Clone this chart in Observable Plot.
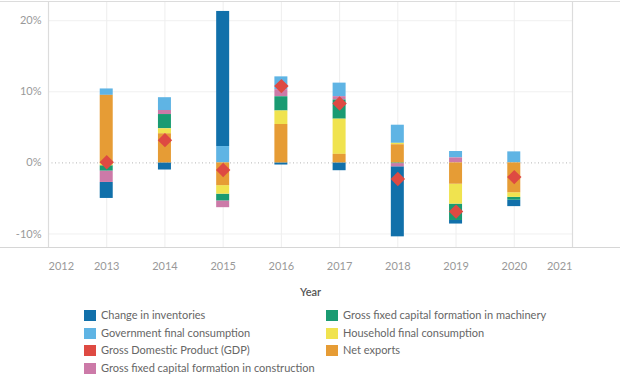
<!DOCTYPE html>
<html><head><meta charset="utf-8">
<script src="https://cdn.jsdelivr.net/npm/d3@7"></script>
<script src="https://cdn.jsdelivr.net/npm/@observablehq/plot@0.6"></script>
<style>
body{margin:0;background:#fff;font-family:Lato,sans-serif;}
#wrap{position:relative;width:620px;height:384px;overflow:hidden;background:#fff}
#wrap svg{position:absolute;left:0;top:0}
.item{position:absolute;display:flex;align-items:center;font-size:11px;color:#666;white-space:nowrap;height:14px;line-height:14px}
.sw{width:12px;height:11px;margin-right:5px;flex:none}
</style></head><body><div id="wrap"></div>
<script>
const years = [2013, 2014, 2015, 2016, 2017, 2018, 2019, 2020];
const inventories = [-2.25, -1.0, 19.0, -0.3, -1.1, -9.85, -0.5, -0.9];
const government = [0.9, 1.8, 2.3, 1.8, 1.9, 2.55, 0.9, 1.55];
const construction = [-1.6, 0.57, -0.95, 1.0, 0.47, -0.45, 0.7, 0];
const machinery = [-0.75, 2.0, -0.95, 2.0, 2.7, -0.1, -2.3, -0.4];
const household = [-0.4, 0.7, -1.2, 1.9, 4.95, 0.2, -2.8, -0.65];
const netExports = [9.5, 4.1, -3.2, 5.4, 1.2, 2.55, -3.0, -4.2];
const gdp = [0.1, 3.2, -1.0, 10.8, 8.35, -2.26, -6.85, -2.0];

const legendNames = ["Change in inventories", "Government final consumption", "Gross Domestic Product (GDP)",
  "Gross fixed capital formation in construction", "Gross fixed capital formation in machinery",
  "Household final consumption", "Net exports"];
const legendColors = ["#1170aa", "#5fb4e4", "#de4a42", "#cc7aa8", "#1a9b72", "#f0e34f", "#e69c35"];
const xTicks = [2012, 2013, 2014, 2015, 2016, 2017, 2018, 2019, 2020, 2021];
const yTicks = [-10, 0, 10, 20];

const seriesValues = [
  ["Change in inventories", inventories],
  ["Government final consumption", government],
  ["Gross fixed capital formation in construction", construction],
  ["Gross fixed capital formation in machinery", machinery],
  ["Household final consumption", household],
  ["Net exports", netExports]
];
const data = seriesValues.flatMap(([s, vals]) => vals.map((v, i) => ({year: years[i], series: s, value: v})));
const gdpData = gdp.map((v, i) => ({year: years[i], value: v}));
const stackOrder = ["Net exports", "Household final consumption", "Gross fixed capital formation in machinery",
  "Gross fixed capital formation in construction", "Government final consumption", "Change in inventories"];

const yDomain = [-11.9, 22.7];
const axisStyle = {tickSize: 0, color: "#999", fontSize: 11, label: null};
const chart = Plot.plot({
  width: 620, height: 305,
  marginTop: 1, marginLeft: 48, marginRight: 48, marginBottom: 58,
  x: {domain: [2012, 2021], axis: null, label: null},
  y: {domain: yDomain, axis: null, label: null},
  color: {domain: legendNames, range: legendColors},
  style: {fontFamily: "Lato, sans-serif", fontSize: "11px", background: "white"},
  marks: [
    Plot.ruleY([-10, 10, 20], {stroke: "#f0f0f0"}),
    Plot.ruleX(xTicks.slice(1, -1), {stroke: "#eeeeee"}),
    Plot.ruleY([0], {stroke: "#b5b5b5", strokeDasharray: "1,2.5"}),
    Plot.ruleX([2012, 2021], {stroke: "#dcdcdc", strokeWidth: 1.2}),
    Plot.ruleY([yDomain[1]], {stroke: "#dcdcdc", insetLeft: -48, insetRight: -48}),
    Plot.ruleY([yDomain[0]], {stroke: "#d6d6d6", insetLeft: -48, insetRight: -48}),
    Plot.rectY(data, Plot.stackY({x1: "year", x2: "year", y: "value", fill: "series", order: stackOrder, insetLeft: -6.5, insetRight: -6.5})),
    Plot.dot(gdpData, {x: "year", y: "value", symbol: "diamond2", r: 6.5, fill: legendColors[2]}),
    Plot.axisY(yTicks, {...axisStyle, tickFormat: d => d + "%", tickPadding: 7}),
    Plot.axisX(xTicks.slice(1, -1), {...axisStyle, tickFormat: d => String(d), tickPadding: 15}),
    Plot.axisX([2012], {...axisStyle, tickFormat: d => String(d), tickPadding: 15, textAnchor: "start"}),
    Plot.axisX([2021], {...axisStyle, tickFormat: d => String(d), tickPadding: 15, textAnchor: "end"}),
    Plot.text(["Year"], {frameAnchor: "bottom", dy: 45, text: d => d, lineAnchor: "middle", textAnchor: "middle", fill: "#555", fontSize: 11, fontWeight: 600})
  ]
});
const wrap = document.getElementById("wrap");
wrap.appendChild(chart);

const pos = [[84, 315], [84, 333], [84, 350], [84, 368], [326, 315], [326, 333], [326, 350]];
legendNames.forEach((name, i) => {
  const it = document.createElement("div");
  it.className = "item";
  it.style.left = pos[i][0] + "px";
  it.style.top = (pos[i][1] - 7) + "px";
  const sw = document.createElement("span");
  sw.className = "sw";
  sw.style.background = legendColors[i];
  const tx = document.createElement("span");
  tx.textContent = name;
  it.appendChild(sw); it.appendChild(tx);
  wrap.appendChild(it);
});
</script></body></html>
